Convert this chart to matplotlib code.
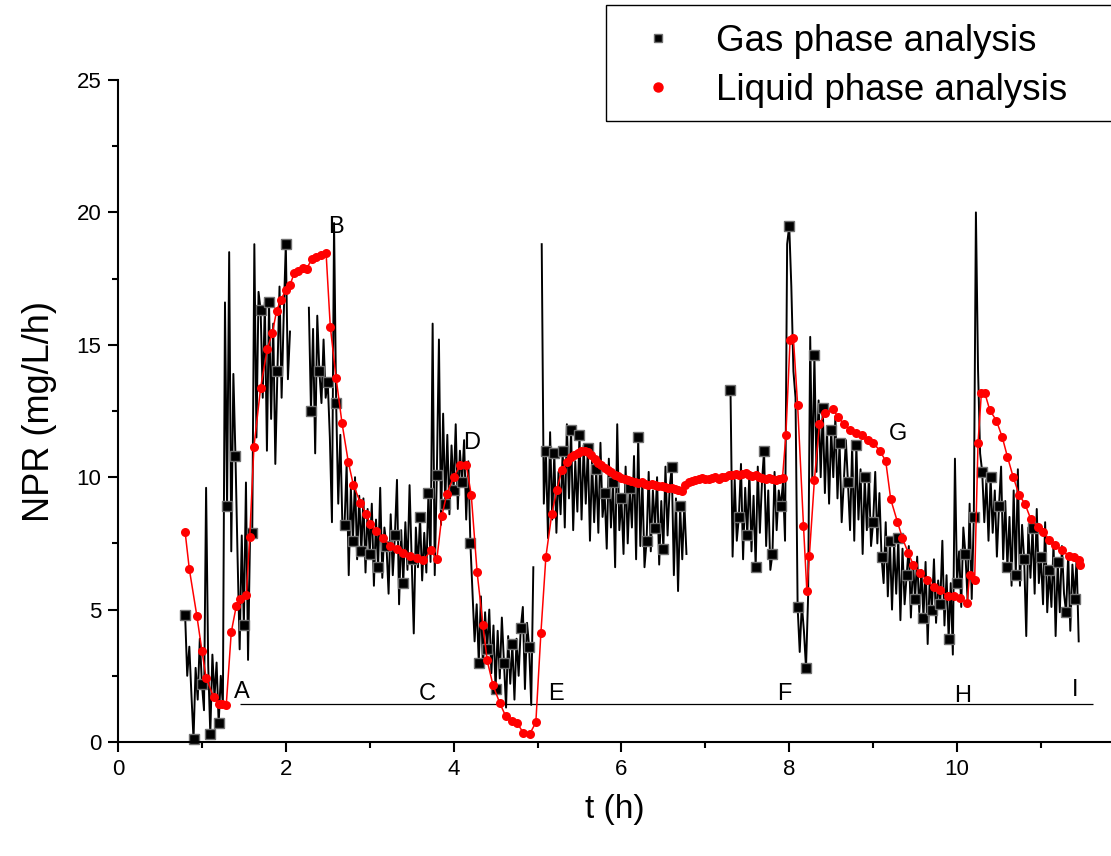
import numpy as np
import matplotlib.pyplot as plt
from matplotlib.lines import Line2D
from matplotlib.patches import Rectangle

plt.rcParams["font.family"] = ["Liberation Sans", "DejaVu Sans"]

nan = np.nan

# gas phase analysis, sampled every 0.025 h from t = 0.8 h (nan = no data)
gas_t0 = 0.8
gas_dt = 0.025
gas_npr = [
    4.8, 2.5, 3.6, 1.8, 0.1, 2.8, 1.6, 3.9, 2.2, 1.2,
    9.6, 2.9, 0.3, 3.3, 1.7, 3.0, 0.7, 2.5, 1.4, 16.6,
    8.9, 18.5, 7.2, 13.9, 10.8, 7.0, 3.5, 7.8, 4.4, 9.8,
    3.1, 8.0, 7.9, 18.8, 11.5, 17.0, 16.3, 13.0, 16.6, 11.0,
    16.6, 12.2, 15.8, 10.5, 14.0, 17.2, 13.0, 16.1, 18.8, 13.7,
    15.5, nan, nan, nan, nan, nan, nan, nan, nan, 16.4,
    12.5, 15.6, 10.9, 16.1, 14.0, 12.8, 15.2, 13.0, 13.6, 11.5,
    8.3, 19.6, 12.8, 9.0, 11.6, 8.1, 8.2, 10.5, 6.3, 9.6,
    7.6, 10.0, 6.9, 9.3, 7.2, 9.2, 6.4, 8.8, 7.1, 9.0,
    5.9, 8.4, 6.6, 9.6, 6.2, 8.1, 7.4, 5.6, 8.6, 6.3,
    7.8, 9.9, 5.2, 8.0, 6.0, 8.3, 6.5, 9.7, 6.9, 4.1,
    8.1, 6.6, 8.5, 6.1, 7.9, 6.4, 9.4, 6.8, 15.8, 6.3,
    10.1, 15.2, 8.2, 12.4, 9.0, 11.6, 8.6, 11.2, 9.5, 12.0,
    8.8, 11.0, 9.8, 11.4, 8.4, 10.6, 7.5, 5.6, 3.8, 5.2,
    3.0, 5.5, 2.8, 4.9, 3.5, 5.0, 2.6, 4.4, 2.0, 4.2,
    2.4, 4.7, 3.0, 1.3, 4.0, 2.2, 3.7, 1.6, 3.9, 2.5,
    4.3, 5.1, 2.0, 4.5, 3.6, 1.4, 6.6, nan, nan, nan,
    18.8, 9.0, 11.0, 7.7, 11.7, 8.4, 10.9, 7.9, 10.2, 8.6,
    11.0, 8.1, 12.0, 9.2, 11.8, 8.0, 10.6, 8.7, 11.6, 8.4,
    11.2, 9.0, 11.1, 7.6, 10.7, 8.3, 10.3, 7.9, 11.3, 8.5,
    9.4, 7.3, 10.7, 8.1, 9.8, 6.6, 12.0, 8.0, 9.2, 7.1,
    10.4, 7.5, 9.6, 8.1, 10.8, 6.9, 11.5, 7.4, 9.9, 6.6,
    7.6, 10.2, 7.2, 9.5, 8.1, 10.0, 6.7, 9.1, 7.3, 10.4,
    7.8, 9.6, 10.4, 6.3, 9.2, 5.7, 8.9, 6.9, 9.0, 7.1,
    nan, nan, nan, nan, nan, nan, nan, nan, nan, nan,
    nan, nan, nan, nan, nan, nan, nan, nan, nan, nan,
    13.3, 7.0, 9.9, 7.6, 8.5, 10.5, 6.9, 9.6, 7.8, 10.2,
    7.2, 9.3, 6.6, 10.4, 7.9, 9.8, 11.0, 7.4, 9.5, 6.5,
    7.1, 10.2, 8.0, 9.5, 8.9, 9.8, 7.6, 18.8, 19.5, 17.2,
    14.0, 13.0, 5.1, 3.4, 5.2, 4.2, 2.8, 5.5, 15.3, 9.9,
    14.6, 10.2, 12.9, 10.0, 12.6, 9.4, 11.8, 9.0, 11.8, 10.0,
    12.3, 9.2, 11.3, 8.3, 9.8, 11.4, 9.8, 8.0, 11.2, 7.6,
    11.2, 8.4, 10.3, 7.1, 10.0, 8.0, 10.1, 7.4, 8.3, 10.2,
    7.5, 9.4, 7.0, 6.0, 8.3, 5.5, 7.6, 5.0, 7.5, 5.6,
    7.7, 4.6, 7.3, 5.2, 6.3, 7.4, 4.7, 6.8, 5.4, 7.0,
    4.9, 6.5, 4.7, 6.8, 3.7, 6.2, 5.0, 6.9, 4.5, 6.1,
    5.2, 7.6, 4.4, 6.3, 3.9, 6.0, 3.3, 10.7, 6.0, 7.2,
    5.1, 8.1, 7.1, 5.4, 9.0, 5.4, 8.5, 20.0, 14.1, 10.9,
    10.2, 8.3, 9.9, 7.6, 10.0, 7.9, 9.5, 7.0, 8.9, 10.4,
    6.9, 9.1, 6.6, 8.5, 5.9, 9.5, 6.3, 10.3, 5.9, 8.2,
    6.9, 4.0, 8.1, 6.2, 8.1, 5.6, 8.8, 6.0, 7.0, 5.2,
    8.3, 4.9, 6.5, 5.1, 7.5, 4.0, 6.8, 4.9, 7.4, 5.6,
    4.9, 7.1, 4.2, 6.7, 5.4, 6.9, 3.8,
]
gas_t = gas_t0 + gas_dt * np.arange(len(gas_npr))

# liquid phase analysis
liq_t = [
    0.80, 0.85, 0.94, 1.00, 1.05, 1.14, 1.20, 1.24, 1.29, 1.35,
    1.41, 1.46, 1.53, 1.57, 1.62, 1.70, 1.78, 1.84, 1.89, 1.94,
    2.00, 2.05, 2.10, 2.15, 2.20, 2.25, 2.31, 2.36, 2.42, 2.48,
    2.53, 2.60, 2.67, 2.745, 2.805, 2.89, 2.96, 3.00, 3.08, 3.16,
    3.24, 3.32, 3.40, 3.48, 3.56, 3.64, 3.73, 3.80, 3.86, 3.92,
    4.00, 4.08, 4.15, 4.21, 4.28, 4.35, 4.40, 4.47, 4.55, 4.62,
    4.69, 4.76, 4.83, 4.91, 4.98, 5.04, 5.10, 5.17, 5.23, 5.29,
    5.35, 5.40, 5.44, 5.48, 5.52, 5.56, 5.60, 5.64, 5.68, 5.72,
    5.76, 5.80, 5.84, 5.88, 5.92, 5.96, 6.00, 6.04, 6.08, 6.12,
    6.16, 6.20, 6.24, 6.28, 6.32, 6.36, 6.40, 6.44, 6.48, 6.52,
    6.56, 6.60, 6.64, 6.68, 6.72, 6.76, 6.80, 6.84, 6.88, 6.92,
    6.96, 7.00, 7.04, 7.08, 7.12, 7.16, 7.20, 7.24, 7.28, 7.32,
    7.36, 7.40, 7.44, 7.48, 7.52, 7.56, 7.60, 7.64, 7.68, 7.72,
    7.76, 7.80, 7.84, 7.88, 7.92, 7.96, 8.01, 8.05, 8.10, 8.17,
    8.21, 8.24, 8.30, 8.36, 8.43, 8.52, 8.58, 8.65, 8.73, 8.80,
    8.87, 8.94, 9.00, 9.08, 9.15, 9.21, 9.29, 9.35, 9.42, 9.48,
    9.56, 9.64, 9.72, 9.80, 9.89, 9.96, 10.04, 10.12, 10.15, 10.21,
    10.25, 10.29, 10.33, 10.39, 10.47, 10.54, 10.60, 10.67, 10.74, 10.81,
    10.88, 10.96, 11.03, 11.10, 11.17, 11.25, 11.33, 11.39, 11.45, 11.47,
]
liq_npr = [
    7.93, 6.53, 4.76, 3.45, 2.43, 1.69, 1.42, 1.42, 1.39, 4.15,
    5.14, 5.40, 5.54, 7.74, 11.15, 13.38, 14.86, 15.45, 16.28, 16.69,
    17.07, 17.26, 17.70, 17.77, 17.90, 17.88, 18.24, 18.31, 18.38, 18.47,
    15.69, 13.73, 12.04, 10.57, 9.71, 9.03, 8.61, 8.22, 7.98, 7.70,
    7.42, 7.28, 7.14, 7.04, 6.96, 6.86, 7.24, 6.90, 8.54, 9.38,
    10.01, 10.46, 10.46, 9.34, 6.41, 4.41, 3.08, 2.14, 1.47, 0.98,
    0.80, 0.70, 0.35, 0.32, 0.74, 4.10, 7.00, 8.61, 9.52, 10.27,
    10.59, 10.75, 10.85, 10.92, 10.98, 10.98, 10.95, 10.85, 10.70, 10.55,
    10.45, 10.35, 10.28, 10.20, 10.10, 10.05, 9.98, 9.92, 9.88, 9.85,
    9.82, 9.78, 9.80, 9.75, 9.72, 9.74, 9.70, 9.68, 9.66, 9.62,
    9.60, 9.58, 9.55, 9.50, 9.48, 9.72, 9.80, 9.85, 9.90, 9.93,
    9.98, 9.95, 9.92, 9.97, 10.00, 9.95, 10.02, 10.00, 10.08, 10.10,
    10.12, 10.10, 10.12, 10.15, 10.10, 10.05, 10.08, 10.00, 9.98, 9.95,
    9.98, 9.95, 9.90, 9.95, 9.98, 11.59, 15.18, 15.24, 12.73, 8.16,
    5.70, 7.04, 9.89, 12.00, 12.41, 12.56, 12.29, 12.01, 11.78, 11.66,
    11.59, 11.40, 11.30, 11.00, 10.61, 9.16, 8.31, 7.69, 7.13, 6.68,
    6.37, 6.12, 5.86, 5.74, 5.51, 5.50, 5.43, 5.24, 6.31, 6.12,
    11.28, 13.17, 13.19, 12.54, 12.13, 11.50, 10.78, 10.00, 9.33, 8.99,
    8.41, 8.13, 7.94, 7.63, 7.44, 7.25, 7.02, 6.97, 6.89, 6.68,
]

# reference line and stage labels
base_npr = 1.42
base_t = [1.45, 11.62]
stage_labels = ["A", "B", "C", "D", "E", "F", "G", "H", "I"]
stage_t = [1.48, 2.60, 3.69, 4.22, 5.22, 7.94, 9.30, 10.07, 11.41]
stage_npr = [1.89, 19.45, 1.81, 11.29, 1.81, 1.81, 11.63, 1.74, 1.96]

W, H = 1111, 856
fig = plt.figure(figsize=(W / 100, H / 100), dpi=100)
ax = fig.add_axes([118 / W, (H - 742) / H, (W - 118) / W, (742 - 80) / H])

ax.plot(gas_t, gas_npr, color="black", linewidth=1.4, marker="s", markersize=6.5,
        markerfacecolor="black", markeredgecolor="#707070", markeredgewidth=1.0,
        markevery=4, clip_on=False, zorder=2)
ax.plot(liq_t, liq_npr, color="red", linewidth=1.1, marker="o", markersize=6.5,
        markeredgewidth=0, clip_on=False, zorder=3)

ax.hlines(base_npr, base_t[0], base_t[1], color="black", linewidth=0.9, zorder=1)
for lab, tx, ty in zip(stage_labels, stage_t, stage_npr):
    ax.text(tx, ty, lab, fontsize=17, ha="center", va="center", zorder=4)

ax.set_xlim(0, 11.835)
ax.set_ylim(0, 25)
ax.set_xticks(np.arange(0, 11, 2))
ax.set_xticks(np.arange(1, 12, 2), minor=True)
ax.set_yticks(np.arange(0, 26, 5))
ax.set_yticks(np.arange(2.5, 25, 5), minor=True)
ax.spines["top"].set_visible(False)
ax.spines["right"].set_visible(False)
for side in ("left", "bottom"):
    ax.spines[side].set_linewidth(1.5)
ax.tick_params(which="major", direction="out", length=7, width=1.5, labelsize=16, pad=5)
ax.tick_params(which="minor", direction="out", length=4.5, width=1.5)
ax.set_xlabel("t (h)", fontsize=24, labelpad=10)
ax.set_ylabel("NPR (mg/L/h)", fontsize=26, labelpad=14)

# legend frame runs past the right edge of the picture
fig.patches.append(Rectangle((606 / W, (H - 121) / H), 0.6, 116 / H, transform=fig.transFigure,
                             facecolor="none", edgecolor="black", linewidth=1.0))
handles = [
    Line2D([], [], linestyle="none", marker="s", markersize=6, markerfacecolor="black",
           markeredgecolor="#707070", markeredgewidth=1.0),
    Line2D([], [], linestyle="none", marker="o", markersize=6.5, color="red"),
]
fig.legend(handles, ["Gas phase analysis", "Liquid phase analysis"], loc="upper left",
           bbox_to_anchor=(621 / W, 1 - 24 / H), frameon=False, fontsize=26.5,
           handlelength=2.0, handletextpad=0.58, labelspacing=0.38, borderpad=0, borderaxespad=0)

fig.savefig("out.png", dpi=100)
